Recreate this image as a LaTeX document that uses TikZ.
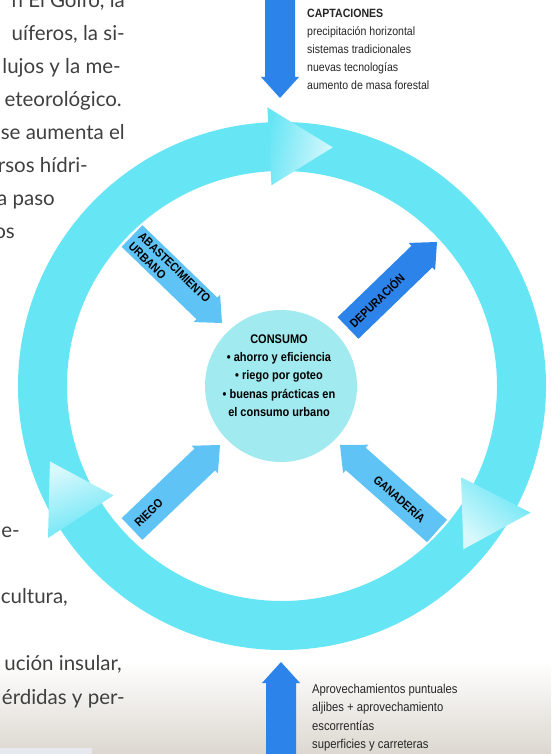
\documentclass[tikz,border=0pt]{standalone}
\usepackage{fontspec}
\usepackage{tikz}
\usetikzlibrary{calc, positioning}
\newfontfamily\condfont[FakeStretch=0.88]{Liberation Sans}
\newfontfamily\pagefont{Lato}
\definecolor{ringCyan}{HTML}{66E5F5}
\definecolor{hubCyan}{HTML}{A0EAF0}
\definecolor{flowLight}{HTML}{60C3F5}
\definecolor{flowDark}{HTML}{2C84EA}
\definecolor{pageGray}{gray}{0.25}
\definecolor{cloudGray}{HTML}{DCD8D0}
\definecolor{boxGray}{HTML}{E6EAEE}

% arrow from tail #1 to tip #2, colour #3
\newcommand{\flowarrow}[3]{%
  \coordinate (neck) at ($(#2)!21pt!(#1)$);
  \fill[#3] ($(#1)!15pt!90:(#2)$) -- ($(neck)!15pt!90:(#2)$) -- ($(neck)!19pt!90:(#2)$) -- (#2)
    -- ($(neck)!19pt!-90:(#2)$) -- ($(neck)!15pt!-90:(#2)$) -- ($(#1)!15pt!-90:(#2)$) -- cycle;
}

\begin{document}
\begin{tikzpicture}[x=1pt, y=1pt,
    pagetext/.style={font=\pagefont\fontsize{20.5}{24}\selectfont, text=pageGray, anchor=base east, inner sep=0pt},
    flowlabel/.style={font=\condfont\bfseries\fontsize{12}{14}\selectfont, text=black, inner sep=0pt, sloped},
    sidetext/.style={font=\condfont\fontsize{12}{18}\selectfont, text=black!85, align=left, anchor=north west, inner sep=0pt},
    hubdisc/.style={circle, fill=hubCyan, minimum size=152pt, inner sep=0pt},
    hubtext/.style={font=\condfont\bfseries\fontsize{12.5}{18.3}\selectfont, align=center, inner sep=0pt}]

    % Background
    \fill[white] (-282,-368) rectangle (269,386);
    \useasboundingbox (-282,-368) rectangle (269,386);
    \shade[top color=white, bottom color=cloudGray] (-282,-275) rectangle (269,-368);
    \fill[boxGray] (-282,-362) rectangle (-190,-368);

    % Page text (cut off at the left)
    \foreach \x/\y/\txt [count=\i] in {-157/378/{n El Golfo, la}, -157/345/{uíferos, la si-},
        -161/312/{lujos y la me-}, -160/279/{eteorológico.}, -157/246/{se aumenta el},
        -194/213/{rsos hídri-}, -227/180/{a paso}, -267/147/{os}, -262/-151/{de-},
        -214/-217/{cultura,}, -160/-284/{ución insular,}, -157/-318/{érdidas y per-}}
        \node[pagetext] (page\i) at (\x,\y) {\txt};

    % Ring
    \coordinate (O) at (0,0);
    \draw[line width=49pt, ringCyan] (O) circle (239.5);
    \foreach \b in {93, 213, 333} {
        \pgfmathsetmacro{\tipAng}{\b-15}
        \pgfmathsetmacro{\shadeAng}{\b-193}
        \shade[bottom color=ringCyan, middle color=ringCyan!70!white, top color=white!75!ringCyan, shading angle=\shadeAng]
            (\b:201) -- (\tipAng:244) -- (\b:279) -- cycle;
    }

    % Hub
    \node[hubdisc] (hub) at (-1,0) {};
    \node[hubtext] (hubLabel) at (-3,10.5) {CONSUMO\\• ahorro y eficiencia\\• riego por goteo\\• buenas prácticas en\\el consumo urbano};

    % Flows
    \coordinate (abT) at (-150,150);
    \coordinate (abH) at (-60,63);
    \coordinate (deT) at (66,58);
    \coordinate (deH) at (155,144);
    \coordinate (riT) at (-150,-143);
    \coordinate (riH) at (-62,-59);
    \coordinate (gaT) at (155,-145);
    \coordinate (gaH) at (58,-59);
    \flowarrow{abT}{abH}{flowLight}
    \flowarrow{deT}{deH}{flowDark}
    \flowarrow{riT}{riH}{flowLight}
    \flowarrow{gaT}{gaH}{flowLight}
    \path (abT) -- (abH) node[flowlabel, pos=0.42, align=left] (abLabel) {ABASTECIMIENTO\\URBANO};
    \path (deT) -- (deH) node[flowlabel, pos=0.32] (deLabel) {DEPURACIÓN};
    \path (riT) -- (riH) node[flowlabel, pos=0.19] (riLabel) {RIEGO};
    \path (gaT) -- (gaH) node[flowlabel, pos=0.38] (gaLabel) {GANADERÍA};

    % Captaciones
    \coordinate (capT) at (-2,392);
    \coordinate (capH) at (-2,288);
    \flowarrow{capT}{capH}{flowDark}
    \node[sidetext] (capText) at (25,376.7) {\textbf{CAPTACIONES}\\precipitación horizontal\\sistemas tradicionales\\nuevas tecnologías\\aumento de masa forestal};

    % Aprovechamientos
    \coordinate (apT) at (-1,-372);
    \coordinate (apH) at (-1,-276);
    \flowarrow{apT}{apH}{flowDark}
    \node[sidetext, font=\condfont\fontsize{12.8}{18.5}\selectfont] (apText) at (30,-297.6) {Aprovechamientos puntuales\\aljibes + aprovechamiento\\escorrentías\\superficies y carreteras};
\end{tikzpicture}
\end{document}
